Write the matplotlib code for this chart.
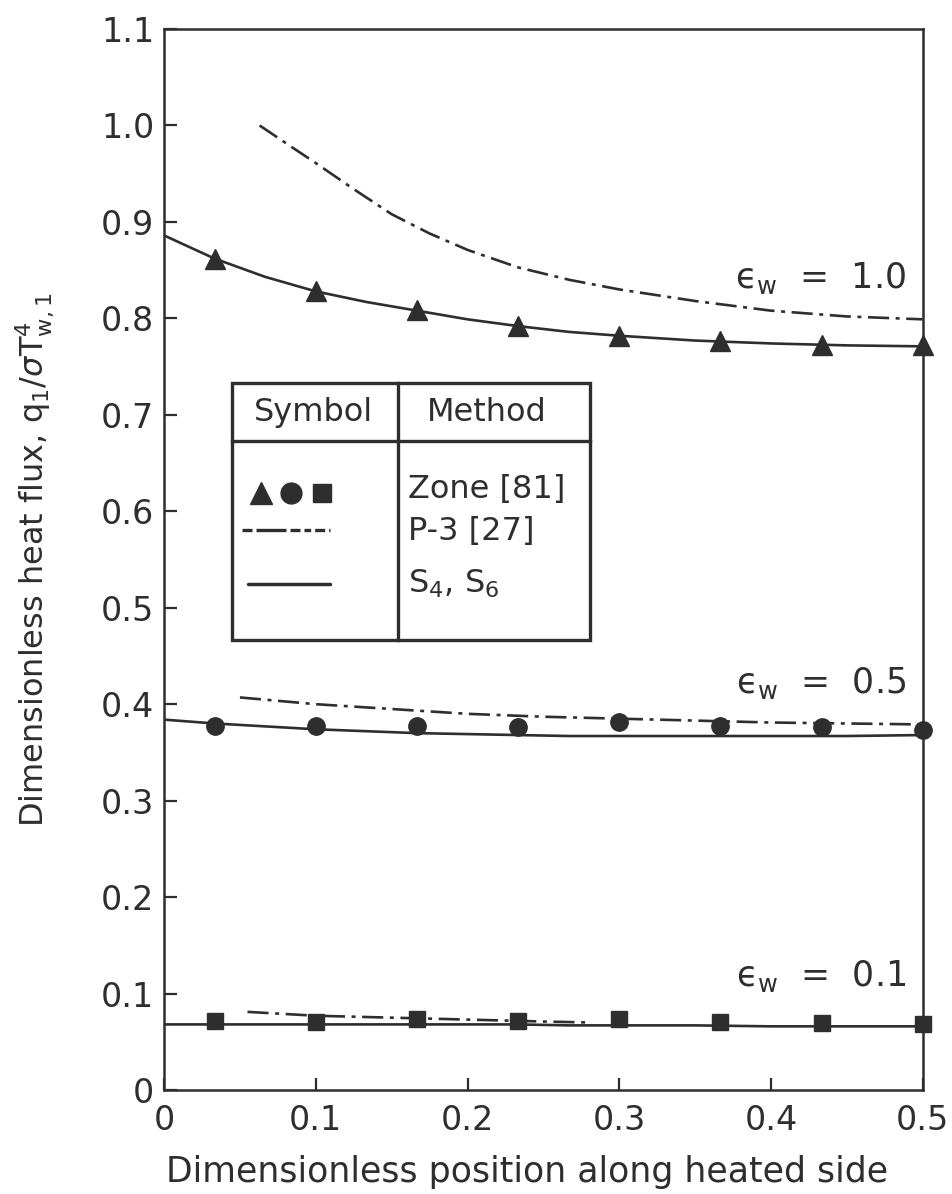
import matplotlib
matplotlib.use("Agg")
import matplotlib.pyplot as plt
from matplotlib.patches import Rectangle
from matplotlib.lines import Line2D

plt.rcParams['font.family'] = ['DejaVu Sans']
plt.rcParams['mathtext.fontset'] = 'dejavusans'

ink = '#2e2e2e'

# zone method points (same x for all three emissivities)
zone_x = [0.0333, 0.1, 0.1667, 0.2333, 0.3, 0.3667, 0.4333, 0.5]
zone_e10 = [0.862, 0.828, 0.809, 0.792, 0.782, 0.777, 0.772, 0.772]
zone_e05 = [0.377, 0.377, 0.377, 0.376, 0.382, 0.377, 0.376, 0.373]
zone_e01 = [0.072, 0.071, 0.074, 0.072, 0.074, 0.071, 0.069, 0.068]

# S4, S6 solution (solid)
sn_x = [0, 0.0333, 0.0667, 0.1, 0.1333, 0.1667, 0.2, 0.2333, 0.2667, 0.3, 0.35, 0.4, 0.45, 0.5]
sn_e10 = [0.886, 0.862, 0.843, 0.828, 0.817, 0.808, 0.799, 0.792, 0.786, 0.782, 0.777, 0.774, 0.772, 0.771]
sn_e05 = [0.384, 0.380, 0.377, 0.374, 0.372, 0.370, 0.369, 0.368, 0.367, 0.367, 0.367, 0.367, 0.367, 0.368]
sn_e01 = [0.068, 0.068, 0.068, 0.068, 0.068, 0.068, 0.068, 0.068, 0.067, 0.067, 0.067, 0.066, 0.066, 0.066]

# P-3 approximation (dash-dot)
p3_x_e10 = [0.063, 0.08, 0.1, 0.125, 0.15, 0.175, 0.2, 0.233, 0.267, 0.3, 0.35, 0.4, 0.45, 0.5]
p3_e10 = [1.0, 0.982, 0.961, 0.934, 0.908, 0.888, 0.871, 0.853, 0.840, 0.830, 0.818, 0.808, 0.802, 0.799]
p3_x_e05 = [0.05, 0.1, 0.15, 0.2, 0.25, 0.3, 0.35, 0.4, 0.45, 0.5]
p3_e05 = [0.407, 0.400, 0.395, 0.390, 0.387, 0.385, 0.383, 0.381, 0.380, 0.379]
p3_x_e01 = [0.055, 0.1, 0.15, 0.2, 0.25, 0.28]
p3_e01 = [0.081, 0.077, 0.075, 0.073, 0.071, 0.070]

x_ticks = [0, 0.1, 0.2, 0.3, 0.4, 0.5]
x_ticklabels = ['0', '0.1', '0.2', '0.3', '0.4', '0.5']
y_ticks = [0, 0.1, 0.2, 0.3, 0.4, 0.5, 0.6, 0.7, 0.8, 0.9, 1.0, 1.1]
y_ticklabels = ['0', '0.1', '0.2', '0.3', '0.4', '0.5', '0.6', '0.7', '0.8', '0.9', '1.0', '1.1']

eps_labels = ['ϵ$_{\\mathrm{w}}$  =  1.0', 'ϵ$_{\\mathrm{w}}$  =  0.5', 'ϵ$_{\\mathrm{w}}$  =  0.1']
eps_label_y = [0.842, 0.422, 0.118]

dashdot = (0, (8, 2.5, 1.5, 2.5))

fig = plt.figure(figsize=(9.52, 11.94), dpi=100)
ax = fig.add_axes([0.1723, 0.0871, 0.797, 0.8886])

lw = 1.9
for yv in (sn_e10, sn_e05, sn_e01):
    ax.plot(sn_x, yv, color=ink, lw=lw, solid_capstyle='butt', zorder=2)
for xv, yv in ((p3_x_e10, p3_e10), (p3_x_e05, p3_e05), (p3_x_e01, p3_e01)):
    ax.plot(xv, yv, color=ink, lw=lw, linestyle=dashdot, zorder=2)

ax.plot(zone_x, zone_e10, linestyle='none', marker='^', ms=14, color=ink, clip_on=False, zorder=3)
ax.plot(zone_x, zone_e05, linestyle='none', marker='o', ms=12.5, color=ink, clip_on=False, zorder=3)
ax.plot(zone_x, zone_e01, linestyle='none', marker='s', ms=11.5, color=ink, clip_on=False, zorder=3)

for lab, yy in zip(eps_labels, eps_label_y):
    ax.text(0.489, yy, lab, ha='right', va='center', fontsize=25, color=ink)

ax.set_xlim(0, 0.5)
ax.set_ylim(0, 1.1)
ax.set_xticks(x_ticks)
ax.set_xticklabels(x_ticklabels)
ax.set_yticks(y_ticks)
ax.set_yticklabels(y_ticklabels)
ax.tick_params(direction='in', length=9, width=1.6, colors=ink, labelsize=24)
ax.tick_params(axis='x', pad=10)
ax.tick_params(axis='y', pad=7)
for sp in ax.spines.values():
    sp.set_linewidth(1.8)
    sp.set_color(ink)

ax.set_xlabel('Dimensionless position along heated side', fontsize=25, color=ink)
ax.xaxis.set_label_coords(0.478, -0.061)
ax.set_ylabel(r'Dimensionless heat flux, q$_1$/$\sigma$T$^4_{\mathrm{w,1}}$',
              fontsize=23, color=ink)
ax.yaxis.set_label_coords(-0.142, 0.5)

# legend table drawn in axes coordinates
T = ax.transAxes
bx0, bx1, by0, by1 = 0.0896, 0.561, 0.424, 0.666
xdiv, yhead = 0.308, 0.612
ax.add_patch(Rectangle((bx0, by0), bx1 - bx0, by1 - by0, transform=T,
                       fill=True, facecolor='white', edgecolor=ink, lw=2.4, zorder=4))
ax.add_line(Line2D([xdiv, xdiv], [by0, by1], transform=T, color=ink, lw=2.4, zorder=5))
ax.add_line(Line2D([bx0, bx1], [yhead, yhead], transform=T, color=ink, lw=2.4, zorder=5))
ax.text(0.197, 0.639, 'Symbol', transform=T, ha='center', va='center', fontsize=23, color=ink, zorder=6)
ax.text(0.346, 0.639, 'Method', transform=T, ha='left', va='center', fontsize=23, color=ink, zorder=6)

row_y = [0.566, 0.526, 0.477]
methods = ['Zone [81]', 'P-3 [27]', r'S$_4$, S$_6$']
for yy, m in zip(row_y, methods):
    ax.text(0.321, yy, m, transform=T, ha='left', va='center', fontsize=23, color=ink, zorder=6)

for mk, xx, ms in (('^', 0.128, 16), ('o', 0.168, 15), ('s', 0.208, 13)):
    ax.plot([xx], [row_y[0] - 0.003], transform=T, marker=mk, ms=ms, color=ink,
            linestyle='none', zorder=6, clip_on=False)
ax.add_line(Line2D([0.103, 0.219], [row_y[1] + 0.002] * 2, transform=T, color=ink,
                   lw=lw + 0.5, linestyle=(0, (3, 1.2, 9, 1.2, 3, 1.2, 2, 1.2)), zorder=6))
ax.add_line(Line2D([0.111, 0.219], [row_y[2]] * 2, transform=T, color=ink, lw=lw + 0.6,
                   solid_capstyle='round', zorder=6))

fig.savefig('out.png', dpi=100, facecolor='white')
